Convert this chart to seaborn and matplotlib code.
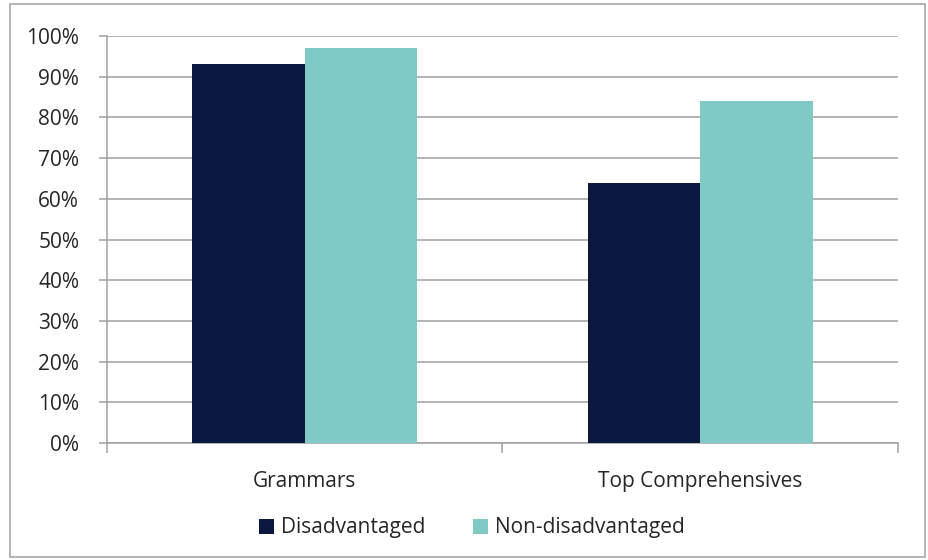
import numpy as np
import pandas as pd
import matplotlib.pyplot as plt
import seaborn as sns
from matplotlib.patches import Rectangle
from matplotlib.ticker import PercentFormatter

schools = ["Grammars", "Top Comprehensives"]
groups = ["Disadvantaged", "Non-disadvantaged"]
disadvantaged = [93, 64]
non_disadvantaged = [97, 84]
colours = ["#0a1840", "#80cac6"]

data = pd.DataFrame({
    "school": schools * 2,
    "group": [groups[0]] * 2 + [groups[1]] * 2,
    "value": disadvantaged + non_disadvantaged,
})

sns.set_style("white")
plt.rcParams["font.family"] = ["Open Sans", "DejaVu Sans"]

fig = plt.figure(figsize=(9.29, 5.6), dpi=100)
ax = fig.add_axes([107 / 929, 1 - 443 / 560, 791 / 929, 407 / 560])

sns.barplot(data=data, x="school", y="value", hue="group", palette=colours,
            width=0.57, saturation=1, linewidth=0, ax=ax, zorder=3)

ax.set_ylim(0, 100)
ax.set_xlim(-0.5, 1.5)
ax.set_yticks(np.arange(0, 101, 10))
ax.yaxis.set_major_formatter(PercentFormatter(decimals=0))
ax.grid(axis="y", color="#a0a0a0", linewidth=1.1, zorder=0)
ax.set_axisbelow(True)
ax.set_xlabel("")
ax.set_ylabel("")

for side in ["top", "right"]:
    ax.spines[side].set_visible(False)
for side in ["left", "bottom"]:
    ax.spines[side].set_color("#a0a0a0")
    ax.spines[side].set_linewidth(1.1)

ax.tick_params(axis="y", length=6, width=1.1, color="#a0a0a0", direction="out",
               left=True, labelsize=15, pad=14)
ax.set_xticks([-0.5, 0.5, 1.5], minor=True)
ax.tick_params(axis="x", which="minor", length=7, width=1.1, color="#a0a0a0",
               direction="out", bottom=True)
ax.tick_params(axis="x", which="major", length=0, labelsize=15, pad=20)

handles, labels = ax.get_legend_handles_labels()
ax.legend(handles, labels, loc="center", bbox_to_anchor=(472 / 929, 1 - 528 / 560),
          bbox_transform=fig.transFigure, ncol=2, frameon=False, fontsize=15,
          handlelength=0.7, handleheight=0.7, handletextpad=0.35, columnspacing=2.3)

fig.patches.append(Rectangle((10 / 929, 3 / 560), 915 / 929, 553 / 560,
                             transform=fig.transFigure, fill=False,
                             edgecolor="#a0a0a0", linewidth=1.1))

fig.savefig("out.png", dpi=100)
